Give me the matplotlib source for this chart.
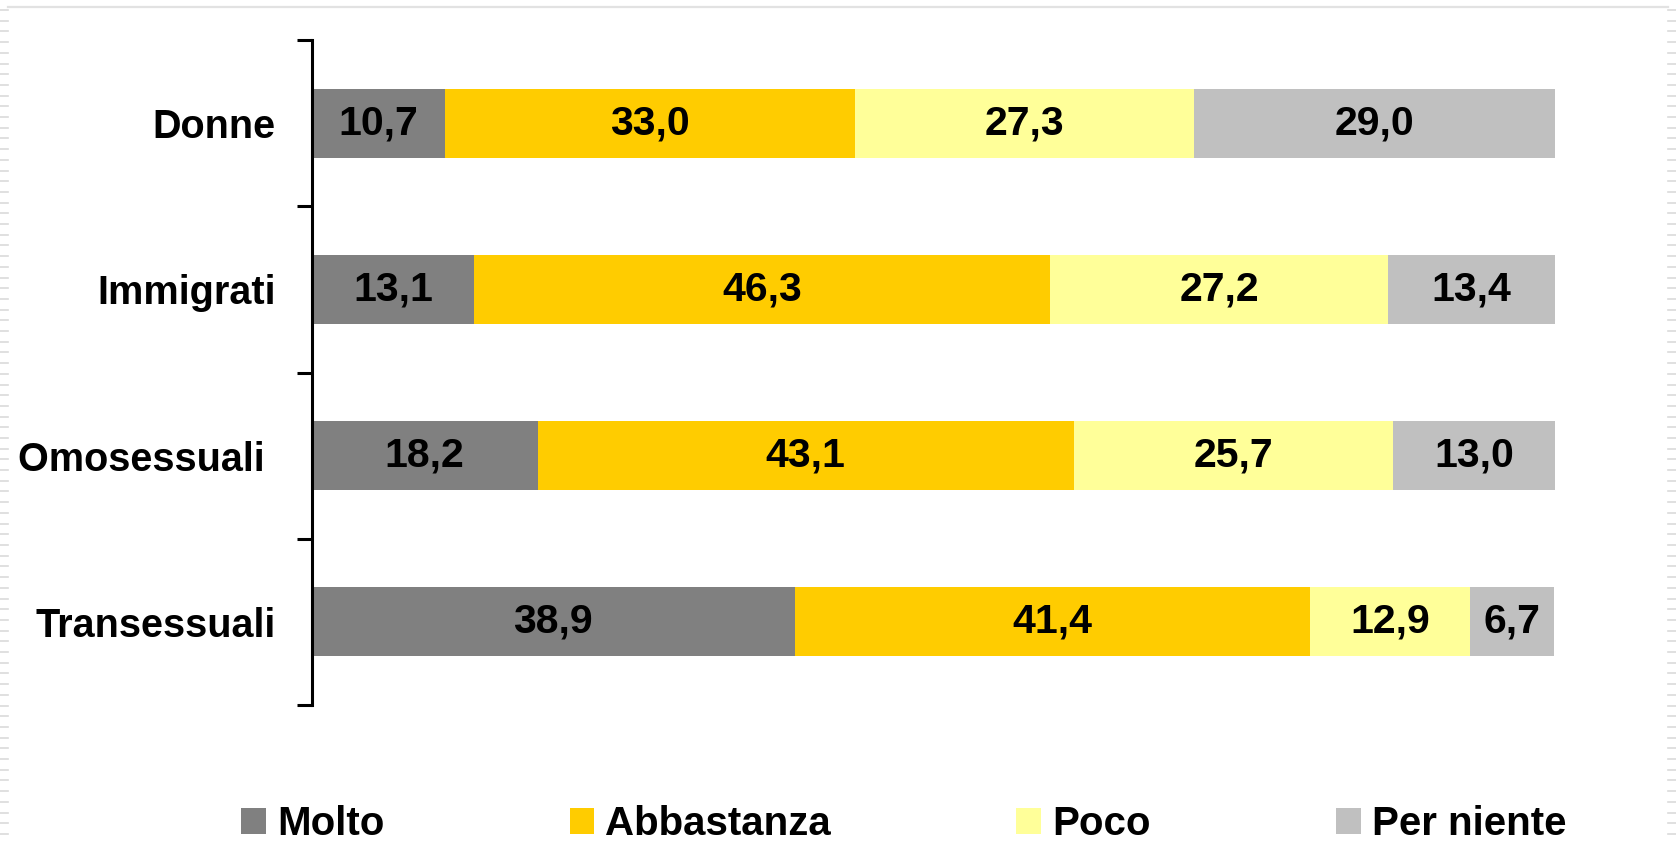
import numpy as np
import matplotlib.pyplot as plt
from matplotlib.lines import Line2D

# data
categories = ['Donne', 'Immigrati', 'Omosessuali ', 'Transessuali']
series_names = ['Molto', 'Abbastanza', 'Poco', 'Per niente']
molto = [10.7, 13.1, 18.2, 38.9]
abbastanza = [33.0, 46.3, 43.1, 41.4]
poco = [27.3, 27.2, 25.7, 12.9]
per_niente = [29.0, 13.4, 13.0, 6.7]
colors = ['#808080', '#FFCC00', '#FFFF99', '#C0C0C0']

plt.rcParams['font.family'] = ['Liberation Sans', 'DejaVu Sans']
plt.rcParams['font.weight'] = 'bold'

W, H = 1676, 844
fig = plt.figure(figsize=(W / 100, H / 100), dpi=100)
ax = fig.add_axes([311.5 / W, 1 - 705 / H, (1555 - 311.5) / W, (705 - 40) / H])

y = np.arange(len(categories))
left = np.zeros(len(categories))
for name, vals, col in zip(series_names, [molto, abbastanza, poco, per_niente], colors):
    vals = np.array(vals)
    ax.barh(y, vals, left=left, height=0.415, color=col, label=name, linewidth=0)
    for yi, l, v in zip(y, left, vals):
        ax.text(l + v / 2, yi, f'{v:.1f}'.replace('.', ','), ha='center', va='center',
                fontsize=29.5, fontweight='bold', color='black')
    left += vals

ax.set_xlim(0, 100)
ax.set_ylim(len(categories) - 0.5, -0.5)
for s in ['top', 'right', 'bottom']:
    ax.spines[s].set_visible(False)
ax.spines['left'].set_linewidth(2.2)
ax.set_xticks([])

# tick marks between the categories, labels at the centres
ax.set_yticks(np.arange(-0.5, len(categories), 1.0))
ax.set_yticklabels([])
ax.tick_params(axis='y', which='major', length=10.5, width=2.2, direction='out')
ax.set_yticks(y, minor=True)
ax.set_yticklabels(categories, minor=True, fontsize=28.5, fontweight='bold')
ax.tick_params(axis='y', which='minor', length=0, pad=26)

ax.legend(loc='lower left', bbox_to_anchor=(241 / W, 1 / H), bbox_transform=fig.transFigure,
          ncol=4, frameon=False, borderpad=0, borderaxespad=0,
          handlelength=0.62, handleheight=0.62, handletextpad=0.27, columnspacing=4.6,
          prop={'weight': 'bold', 'size': 29})

# slide frame: thin top line and dashed side strips
fig.add_artist(Line2D([8 / W, 1668 / W], [1 - 7 / H, 1 - 7 / H], transform=fig.transFigure,
                      color='#e2e2e2', lw=1.6))
for yy in np.arange(10, H, 10.7):
    for x0 in (0, 1668):
        fig.add_artist(Line2D([x0 / W, (x0 + 8) / W], [1 - yy / H, 1 - yy / H],
                              transform=fig.transFigure, color='#dadada', lw=1.2))

fig.savefig('out.png', dpi=100)
